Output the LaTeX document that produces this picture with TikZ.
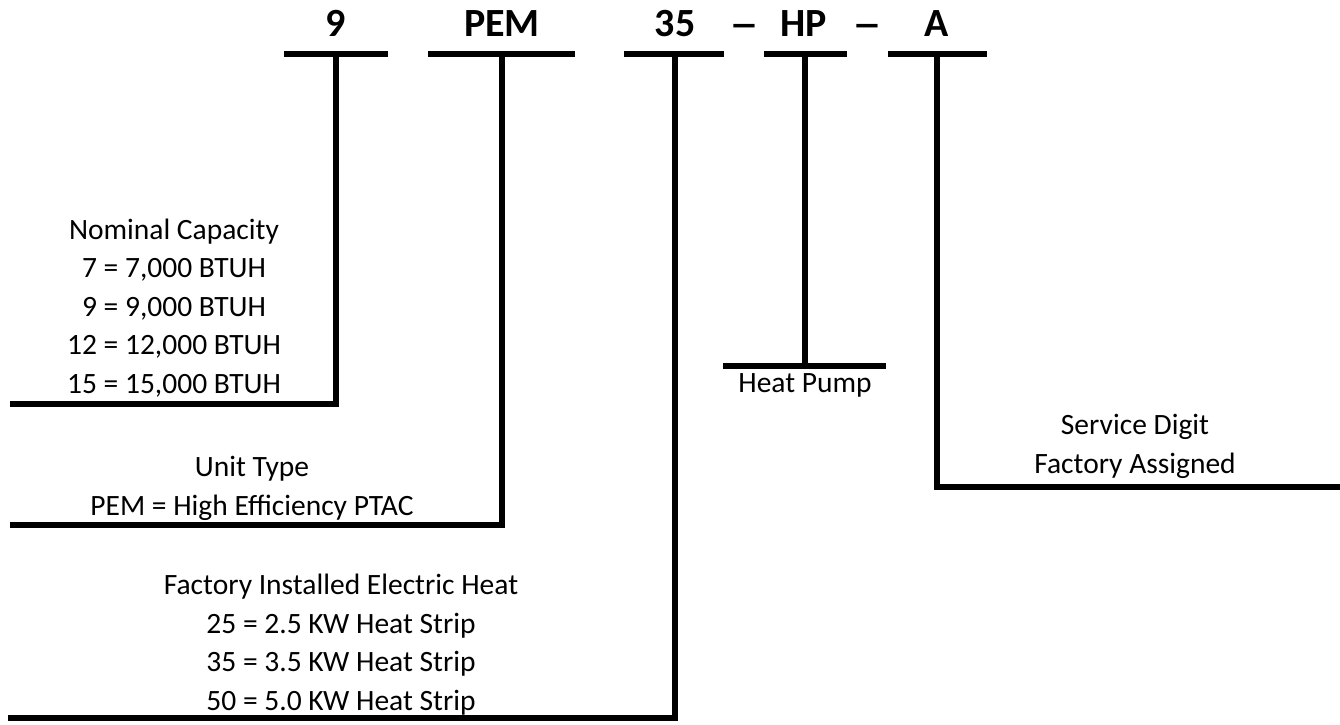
\documentclass[tikz,border=0pt]{standalone}
\usepackage{fontspec}
\usepackage{graphicx}
\setmainfont{Carlito}
\begin{document}
\begin{tikzpicture}[x=1pt,y=-1pt,
  code/.style={font=\fontsize{40}{48}\selectfont\bfseries, anchor=base, inner sep=0pt},
  desc/.style={font=\fontsize{29.5}{38.5}\selectfont, anchor=base, inner sep=0pt},
  rule/.style={line width=6pt, line join=miter}]
\useasboundingbox (0,0) rectangle (1340,724);
% code letters
\node[code] (c9)  at (336,36) {9};
\node[code] (cpem) at (502,36) {PEM};
\node[code] (c35) at (675,36) {35};
\node[code] (d1)  at (744,37) {\scalebox{1.5}[1]{–}};
\node[code] (chp) at (804,36) {HP};
\node[code] (d2)  at (867,37) {\scalebox{1.5}[1]{–}};
\node[code] (ca)  at (937,36) {A};
% bars under the code
\coordinate (b1l) at (284,54); \coordinate (b1r) at (388,54); \coordinate (s1) at (336,54);
\coordinate (b2l) at (428,54); \coordinate (b2r) at (575,54); \coordinate (s2) at (502,54);
\coordinate (b3l) at (624,54); \coordinate (b3r) at (724,54); \coordinate (s3) at (675,54);
\coordinate (b4l) at (764,54); \coordinate (b4r) at (847,54); \coordinate (s4) at (805,54);
\coordinate (b5l) at (888,54); \coordinate (b5r) at (987,54); \coordinate (s5) at (937,54);
\draw[rule] (b1l) -- (b1r);
\draw[rule] (b2l) -- (b2r);
\draw[rule] (b3l) -- (b3r);
\draw[rule] (b4l) -- (b4r);
\draw[rule] (b5l) -- (b5r);
% leader ends
\coordinate (e1) at (10,404);
\coordinate (e2) at (10,525);
\coordinate (e3) at (8,718);
\coordinate (e4) at (805,366);
\coordinate (h4l) at (723,366); \coordinate (h4r) at (886,366);
\coordinate (e5) at (1340,487);
\draw[rule] (s1) |- (e1);
\draw[rule] (s2) |- (e2);
\draw[rule] (s3) |- (e3);
\draw[rule] (s4) -- (e4);
\draw[rule] (h4l) -- (h4r);
\draw[rule] (s5) |- (e5);
% descriptions
\node[desc] (n0) at (174,239) {Nominal Capacity};
\node[desc] (n1) at (174,277.5) {7 = 7,000 BTUH};
\node[desc] (n2) at (174,316) {9 = 9,000 BTUH};
\node[desc] (n3) at (174,354.5) {12 = 12,000 BTUH};
\node[desc] (n4) at (174,393) {15 = 15,000 BTUH};
\node[desc] (u0) at (252,476.5) {Unit Type};
\node[desc] (u1) at (252,515) {PEM = High Efficiency PTAC};
\node[desc] (f0) at (341,594.5) {Factory Installed Electric Heat};
\node[desc] (f1) at (341,633) {25 = 2.5 KW Heat Strip};
\node[desc] (f2) at (341,671.5) {35 = 3.5 KW Heat Strip};
\node[desc] (f3) at (341,710) {50 = 5.0 KW Heat Strip};
\node[desc] (hp) at (805,392) {Heat Pump};
\node[desc] (sd0) at (1135,434.5) {Service Digit};
\node[desc] (sd1) at (1135,473) {Factory Assigned};
\end{tikzpicture}
\end{document}
